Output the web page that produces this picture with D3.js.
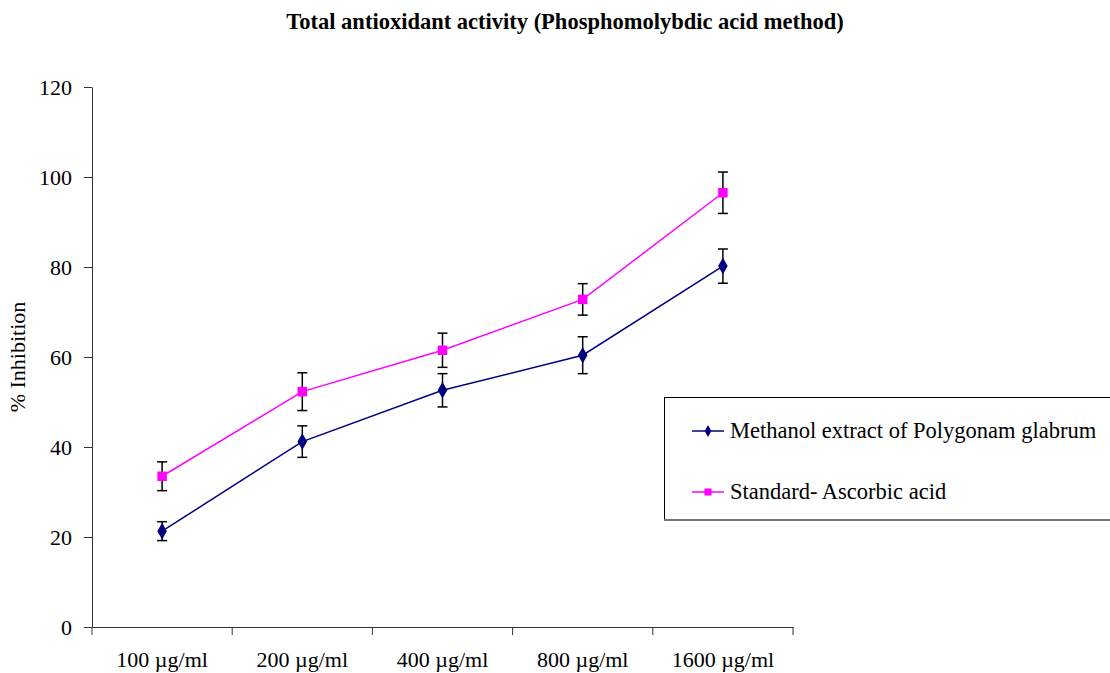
<!DOCTYPE html>
<html>
<head>
<meta charset="utf-8">
<script src="https://cdn.jsdelivr.net/npm/d3@7"></script>
<style>
  body { margin: 0; background: #fff; }
  text { font-family: "Liberation Serif", "Times New Roman", serif; }
</style>
</head>
<body>
<svg width="1110" height="673"></svg>
<script>
// data
const categories = ['100 µg/ml', '200 µg/ml', '400 µg/ml', '800 µg/ml', '1600 µg/ml'];
const methanolValues = [21.3, 41.2, 52.6, 60.4, 80.2];
const methanolErrors = [2.1, 3.5, 3.7, 4.1, 3.8];
const standardValues = [33.5, 52.3, 61.5, 72.8, 96.5];
const standardErrors = [3.2, 4.2, 3.8, 3.5, 4.6];
const yTicks = [0, 20, 40, 60, 80, 100, 120];
const seriesNames = ['Methanol extract of Polygonam glabrum', 'Standard- Ascorbic acid'];

const svg = d3.select('svg');

const plotLeft = 92, plotRight = 793, plotTop = 87, plotBottom = 627;
const fontSize = 22;

const x = d3.scaleBand()
    .domain(categories)
    .range([plotLeft, plotRight]);

const y = d3.scaleLinear()
    .domain([0, 120])
    .range([plotBottom, plotTop]);

// title
svg.append('text')
    .attr('x', 565)
    .attr('y', 29)
    .attr('text-anchor', 'middle')
    .attr('font-size', 22.5)
    .attr('font-weight', 'bold')
    .text('Total antioxidant activity (Phosphomolybdic acid method)');

// axes
const yAxis = svg.append('g')
    .attr('transform', `translate(${plotLeft},0)`)
    .call(d3.axisLeft(y).tickValues(yTicks).tickSize(8).tickPadding(12).tickSizeOuter(0));
yAxis.selectAll('text').attr('font-size', fontSize).attr('fill', '#000').style('font-family', '"Liberation Serif", serif');

const xAxis = svg.append('g')
    .attr('transform', `translate(0,${plotBottom})`)
    .call(d3.axisBottom(x).tickSize(0).tickSizeOuter(0).tickPadding(24));
xAxis.selectAll('text').attr('font-size', fontSize).attr('fill', '#000').style('font-family', '"Liberation Serif", serif');

// x ticks at band boundaries
const bounds = categories.map(c => x(c)).concat([x.range()[1]]);
svg.append('g')
    .selectAll('line')
    .data(bounds)
    .join('line')
        .attr('x1', d => d)
        .attr('x2', d => d)
        .attr('y1', plotBottom)
        .attr('y2', plotBottom + 8)
        .attr('stroke', '#333');

svg.selectAll('.domain, .tick line').attr('stroke', '#333');

// y label
svg.append('text')
    .attr('transform', `translate(25,${(plotTop + plotBottom) / 2}) rotate(-90)`)
    .attr('text-anchor', 'middle')
    .attr('font-size', fontSize)
    .text('% Inhibition');

const cx = c => x(c) + x.bandwidth() / 2;

function drawSeries(values, errors, color, shape) {
    const g = svg.append('g');
    const line = d3.line()
        .x((d, i) => cx(categories[i]))
        .y(d => y(d));
    g.append('path')
        .datum(values)
        .attr('d', line)
        .attr('fill', 'none')
        .attr('stroke', color)
        .attr('stroke-width', 1.5);

    // error bars
    values.forEach((v, i) => {
        const px = cx(categories[i]);
        const eg = g.append('g').attr('stroke', '#000').attr('stroke-width', 1.5);
        eg.append('line')
            .attr('x1', px).attr('x2', px)
            .attr('y1', y(v + errors[i])).attr('y2', y(v - errors[i]));
        [v + errors[i], v - errors[i]].forEach(e => {
            eg.append('line')
                .attr('x1', px - 5).attr('x2', px + 5)
                .attr('y1', y(e)).attr('y2', y(e));
        });
    });

    g.selectAll('path.mark')
        .data(values)
        .join('path')
            .attr('class', 'mark')
            .attr('transform', (d, i) => `translate(${cx(categories[i])},${y(d)})`)
            .attr('d', d3.symbol().type(shape).size(shape === d3.symbolSquare ? 90 : 80))
            .attr('fill', color);
}

drawSeries(methanolValues, methanolErrors, '#000080', d3.symbolDiamond);
drawSeries(standardValues, standardErrors, '#FF00FF', d3.symbolSquare);

// legend
const legend = svg.append('g');
legend.append('rect')
    .attr('x', 664.5)
    .attr('y', 397.5)
    .attr('width', 460)
    .attr('height', 122)
    .attr('fill', '#fff')
    .attr('stroke', '#000')
    .attr('stroke-width', 1);
legend.append('line')
    .attr('x1', 664).attr('x2', 1110)
    .attr('y1', 520).attr('y2', 520)
    .attr('stroke', '#777')
    .attr('stroke-width', 2);

const legendItems = [
    { name: seriesNames[0], color: '#000080', shape: d3.symbolDiamond, size: 40 },
    { name: seriesNames[1], color: '#FF00FF', shape: d3.symbolSquare, size: 50 }
];
legendItems.forEach((d, i) => {
    const ly = 431 + i * 61;
    legend.append('line')
        .attr('x1', 692).attr('x2', 724)
        .attr('y1', ly).attr('y2', ly)
        .attr('stroke', d.color)
        .attr('stroke-width', 1.5);
    legend.append('path')
        .attr('transform', `translate(708,${ly})`)
        .attr('d', d3.symbol().type(d.shape).size(d.size))
        .attr('fill', d.color);
    legend.append('text')
        .attr('x', 730)
        .attr('y', ly + 7)
        .attr('font-size', 22.5)
        .text(d.name);
});
</script>
</body>
</html>
